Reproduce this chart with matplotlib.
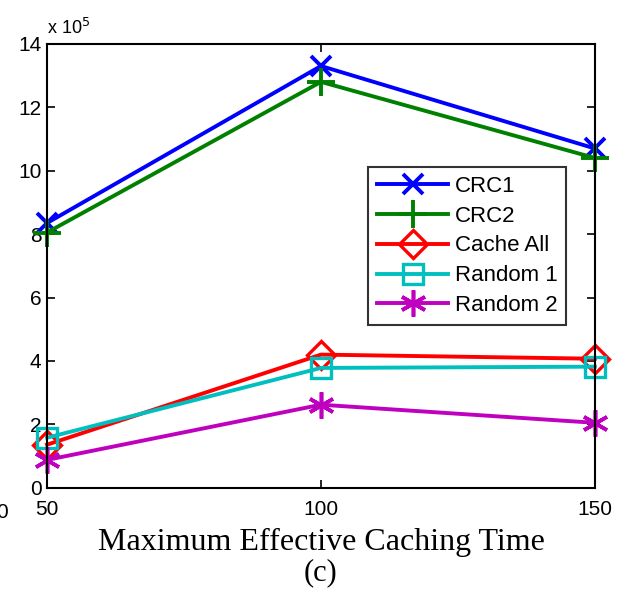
import matplotlib
matplotlib.use("Agg")
import matplotlib.pyplot as plt

# values in units of 1e5
x_vals = [50, 100, 150]
crc1 = [8.35, 13.3, 10.7]
crc2 = [8.05, 12.8, 10.4]
cache_all = [1.36, 4.2, 4.07]
random1 = [1.58, 3.78, 3.82]
random2 = [0.88, 2.62, 2.05]

series = [
    ("CRC1", crc1, "#0000ff", "x"),
    ("CRC2", crc2, "#008000", "+"),
    ("Cache All", cache_all, "#ff0000", "D"),
    ("Random 1", random1, "#00bfbf", "s"),
    ("Random 2", random2, "#bf00bf", (6, 2, 0)),
]

plt.rcParams['font.family'] = ['Liberation Sans', 'DejaVu Sans']

fig = plt.figure(figsize=(6.19, 5.92), dpi=100)
ax = fig.add_axes([0.076, 0.176, 0.885, 0.75])

for name, vals, color, mk in series:
    kw = dict(color=color, linewidth=2.8, label=name, clip_on=False)
    if mk == "D":
        kw.update(markerfacecolor="none", markeredgewidth=2.4, markersize=14)
    elif mk == "s":
        kw.update(markerfacecolor="none", markeredgewidth=2.4, markersize=15)
    elif mk == "x":
        kw.update(markeredgewidth=2.8, markersize=15)
    elif mk == "+":
        kw.update(markeredgewidth=2.8, markersize=20)
    else:
        kw.update(markeredgewidth=2.6, markersize=19)
    ax.plot(x_vals, vals, marker=mk, **kw)

ax.set_xlim(50, 150)
ax.set_ylim(0, 14)
ax.set_xticks(x_vals)
ax.set_yticks([0, 2, 4, 6, 8, 10, 12, 14])
ax.tick_params(direction="in", length=6, width=1.2, labelsize=15, top=True, right=True)
ax.tick_params(axis="x", pad=9)
ax.tick_params(axis="y", pad=4)
for s in ax.spines.values():
    s.set_linewidth(1.5)

ax.text(0.0, 1.012, r"x 10$^5$", transform=ax.transAxes, fontsize=13, ha="left", va="bottom")

ax.set_xlabel("Maximum Effective Caching Time", family=["Liberation Serif", "DejaVu Serif"],
              fontsize=23, labelpad=6)
fig.text(0.517, 0.032, "(c)", family=["Liberation Serif", "DejaVu Serif"], fontsize=22,
         ha="center", va="center")
# fragment of neighbouring panel label
fig.text(0.004, 0.135, "0", fontsize=15, ha="center", va="center")

leg = ax.legend(loc="upper left", bbox_to_anchor=(0.586, 0.723), fontsize=16, frameon=True,
                fancybox=False, edgecolor="black", handlelength=3.2, borderpad=0.4,
                labelspacing=0.4, handletextpad=0.3, borderaxespad=0)
leg.get_frame().set_linewidth(1.5)

fig.savefig("out.png", dpi=100)
